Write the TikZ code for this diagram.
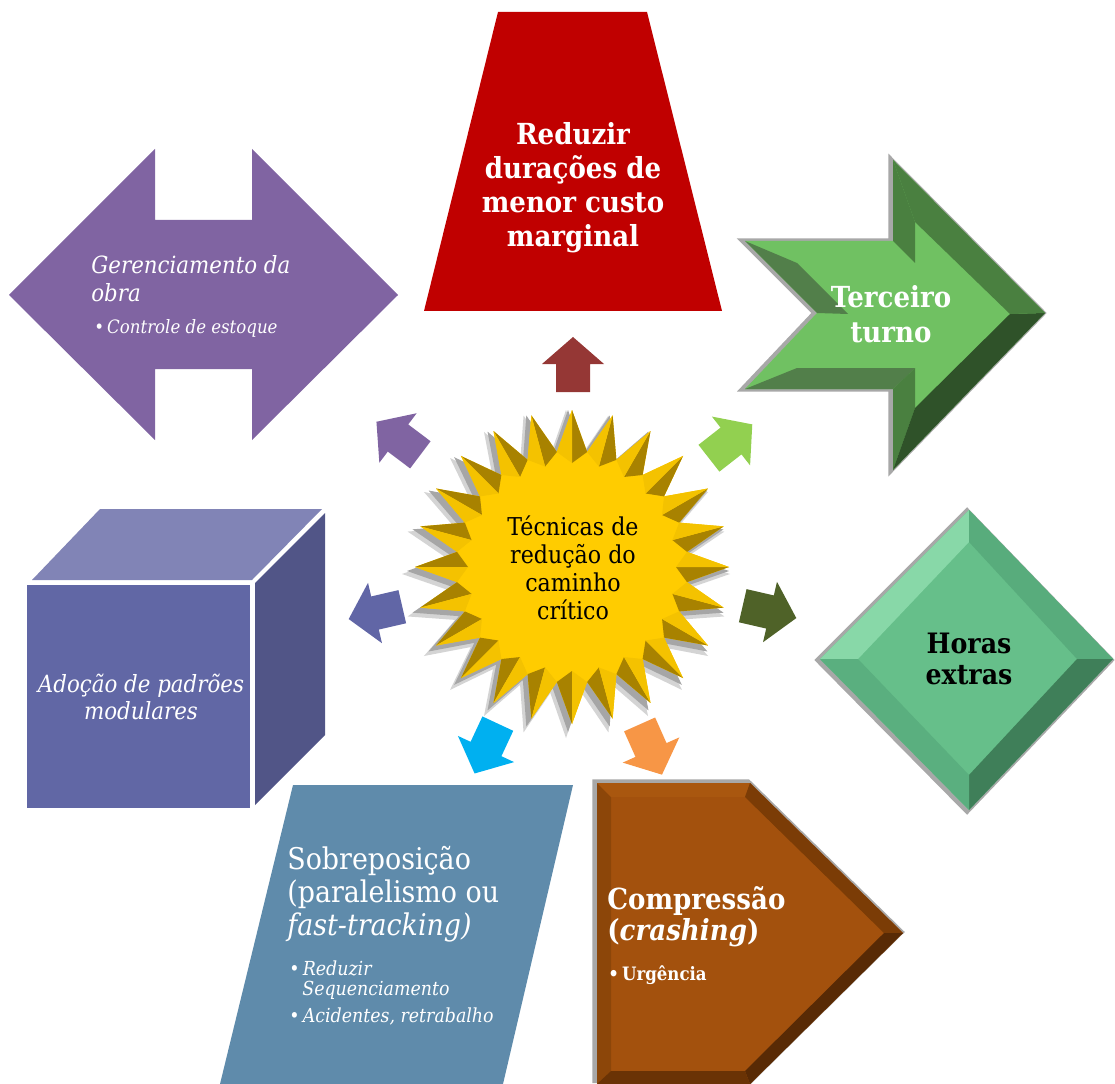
\documentclass[tikz,border=0pt]{standalone}
\usepackage{fontspec}
\setmainfont{DejaVu Serif}[FakeStretch=0.9]
\definecolor{redbox}{HTML}{C00000}
\definecolor{purplebox}{HTML}{8064A2}
\definecolor{cubefront}{HTML}{6167A5}
\definecolor{cubetop}{HTML}{8184B6}
\definecolor{cubeside}{HTML}{515587}
\definecolor{bluebox}{HTML}{5F8BAB}
\definecolor{brface}{HTML}{A3510D}
\definecolor{brleft}{HTML}{8C4609}
\definecolor{brtop}{HTML}{A9570F}
\definecolor{brur}{HTML}{7B3C06}
\definecolor{brlr}{HTML}{582A05}
\definecolor{brbot}{HTML}{6A3305}
\definecolor{gaface}{HTML}{70C162}
\definecolor{gamid}{HTML}{4A8040}
\definecolor{gatail}{HTML}{527F4A}
\definecolor{gadark}{HTML}{2F5229}
\definecolor{dface}{HTML}{66BF8A}
\definecolor{dul}{HTML}{88D8A8}
\definecolor{dur}{HTML}{58AC7C}
\definecolor{dlr}{HTML}{3F7F59}
\definecolor{dll}{HTML}{5AAF7F}
\definecolor{rimgray}{HTML}{A8A8A8}
\definecolor{starface}{HTML}{FFCC00}
\definecolor{stardark}{HTML}{A88200}
\definecolor{starlight}{HTML}{F4C200}
\definecolor{starshadow}{HTML}{A6A6A6}
\definecolor{starshadowb}{HTML}{D4D4D4}
\definecolor{arrred}{HTML}{953735}
\definecolor{arrpurple}{HTML}{8064A2}
\definecolor{arrgreen}{HTML}{92D050}
\definecolor{arrolive}{HTML}{4F6228}
\definecolor{arrblue}{HTML}{6166A6}
\definecolor{arrcyan}{HTML}{00B0F0}
\definecolor{arrorange}{HTML}{F79646}
\tikzset{
  rim/.style={draw=rimgray, line width=3pt, line join=miter},
  wlabel/.style={text=white, inner sep=0pt},
  blabel/.style={text=black, inner sep=0pt}
}
\newcommand\blockarrow[4]{%
  \fill[#4, shift={(#1,#2)}, rotate=#3] (-28,-17) -- (0,-17) -- (0,-31) -- (27,0) -- (0,31) -- (0,17) -- (-28,17) -- cycle;}
\begin{document}
\begin{tikzpicture}[x=0.02cm,y=-0.02cm]
\useasboundingbox (0,0) rectangle (1115,1084);

% red trapezoid
\fill[redbox] (498,12) -- (647,12) -- (722,311) -- (424,311) -- cycle;
\node[wlabel, font=\bfseries\fontsize{16.5}{19.3}\selectfont, align=center] (reduzir) at (573,188) {Reduzir\\durações de\\menor custo\\marginal};

% purple double arrow
\fill[purplebox] (9,295) -- (155,149) -- (155,220) -- (252,220) -- (252,149) -- (398,295) -- (252,440) -- (252,369) -- (155,369) -- (155,440) -- cycle;
\node[wlabel, font=\itshape\fontsize{13.5}{16}\selectfont, align=left, anchor=west] (geren) at (91,279) {Gerenciamento da\\obra};
\node[wlabel, font=\itshape\fontsize{10.5}{12}\selectfont, anchor=west] (estoque) at (94,328) {•\,Controle de estoque};

% green chevron arrow
\draw[rim, shift={(-2,0)}] (745,241) -- (893,241) -- (893,160) -- (1045,313) -- (893,470) -- (893,389) -- (745,389) -- (817,313) -- cycle;
\fill[gaface] (745,241) -- (893,241) -- (893,160) -- (1045,313) -- (893,470) -- (893,389) -- (745,389) -- (817,313) -- cycle;
\fill[gatail] (745,241) -- (817,313) -- (848,314) -- (797,263) -- cycle;
\fill[gatail] (745,389) -- (893,389) -- (915,368) -- (797,368) -- cycle;
\fill[gamid] (893,389) -- (893,470) -- (915,408) -- (915,368) -- cycle;
\fill[gadark] (893,470) -- (1045,313) -- (1010,314) -- (915,408) -- cycle;
\fill[gamid] (1045,313) -- (893,160) -- (915,222) -- (1010,314) -- cycle;
\fill[gamid] (893,160) -- (893,241) -- (915,263) -- (915,222) -- cycle;
\node[wlabel, font=\bfseries\fontsize{16.5}{19.8}\selectfont, align=center] (terceiro) at (891,314) {Terceiro\\turno};

% green diamond
\draw[rim, shift={(-2,1)}] (969,510) -- (1113,659) -- (969,810) -- (820,659) -- cycle;
\fill[dface] (969,510) -- (1113,659) -- (969,810) -- (820,659) -- cycle;
\fill[dul] (969,510) -- (820,659) -- (858,659) -- (969,542) -- cycle;
\fill[dur] (969,510) -- (1113,659) -- (1077,659) -- (969,542) -- cycle;
\fill[dlr] (1113,659) -- (969,810) -- (969,775) -- (1077,659) -- cycle;
\fill[dll] (820,659) -- (969,810) -- (969,775) -- (858,659) -- cycle;
\node[blabel, font=\bfseries\fontsize{16}{18}\selectfont, align=center] (horas) at (969,659) {Horas\\extras};

% cube
\fill[cubetop] (32,580) -- (100,509) -- (322,509) -- (252,580) -- cycle;
\fill[cubeside] (255,583) -- (325,513) -- (325,735) -- (255,805) -- cycle;
\fill[cubefront] (27,585) rectangle (250,808);
\node[wlabel, font=\itshape\fontsize{13.5}{15.3}\selectfont, align=center] (adocao) at (141,697) {Adoção de padrões\\modulares};

% blue parallelogram
\fill[bluebox] (293,785) -- (573,785) -- (503,1084) -- (220,1084) -- cycle;
\node[wlabel, font=\fontsize{17}{18.7}\selectfont, align=left, anchor=west] (sobre) at (287,894) {Sobreposição\\(paralelismo ou\\\textit{fast-tracking)}};
\node[wlabel, font=\itshape\fontsize{11}{13}\selectfont, anchor=west] (reduzseq) at (289,968) {•\,Reduzir};
\node[wlabel, font=\itshape\fontsize{11}{13}\selectfont, anchor=west] (seq) at (302,990) {Sequenciamento};
\node[wlabel, font=\itshape\fontsize{11}{13}\selectfont, anchor=west] (acid) at (289,1016) {•\,Acidentes, retrabalho};

% brown pentagon
\draw[rim, shift={(-2,-1)}] (597,1084) -- (597,783) -- (750,783) -- (903,933) -- (750,1084);
\fill[brface] (597,783) -- (750,783) -- (903,933) -- (750,1084) -- (597,1084) -- cycle;
\fill[brleft] (597,1084) -- (597,783) -- (611,797) -- (611,1071) -- cycle;
\fill[brtop] (597,783) -- (750,783) -- (745,797) -- (611,797) -- cycle;
\fill[brur] (750,783) -- (903,933) -- (884,933) -- (745,797) -- cycle;
\fill[brlr] (903,933) -- (750,1084) -- (745,1071) -- (884,933) -- cycle;
\fill[brbot] (750,1084) -- (597,1084) -- (611,1071) -- (745,1071) -- cycle;
\node[wlabel, font=\bfseries\fontsize{16.5}{17.6}\selectfont, align=left, anchor=west] (compr) at (607,917) {Compressão\\(\textit{crashing})};
\node[wlabel, font=\bfseries\fontsize{10.5}{12}\selectfont, anchor=west] (urg) at (608,975) {•\,Urgência};

% star
\begin{scope}[shift={(566,574)}]
\fill[starshadowb] (90:164) \foreach \i in {0,...,23}{ -- ({90+15*\i}:164) -- ({97.5+15*\i}:120)} -- cycle;
\end{scope}
\begin{scope}[shift={(568,571)}]
\fill[starshadow] (90:161) \foreach \i in {0,...,23}{ -- ({90+15*\i}:161) -- ({97.5+15*\i}:118)} -- cycle;
\end{scope}
\begin{scope}[shift={(572,567)}]
\fill[starface] (90:157) \foreach \i in {0,...,23}{ -- ({90+15*\i}:157) -- ({97.5+15*\i}:116)} -- cycle;
\foreach \i in {0,...,23}{
  \fill[stardark] ({90+15*\i}:157) -- ({97.5+15*\i}:116) -- ({90+15*\i}:104) -- cycle;
  \fill[starlight] ({90+15*\i}:157) -- ({82.5+15*\i}:116) -- ({90+15*\i}:104) -- cycle;
}
\end{scope}
\node[blabel, font=\fontsize{14}{15.9}\selectfont, align=center] (hub) at (573,568) {Técnicas de\\redução do\\caminho\\crítico};

% small arrows
\blockarrow{573}{364}{90}{arrred}
\blockarrow{398}{438}{143}{arrpurple}
\blockarrow{731}{441}{38}{arrgreen}
\blockarrow{770}{612}{-13}{arrolive}
\blockarrow{375}{613}{193}{arrblue}
\blockarrow{486}{749}{245}{arrcyan}
\blockarrow{651}{750}{294}{arrorange}
\end{tikzpicture}
\end{document}
